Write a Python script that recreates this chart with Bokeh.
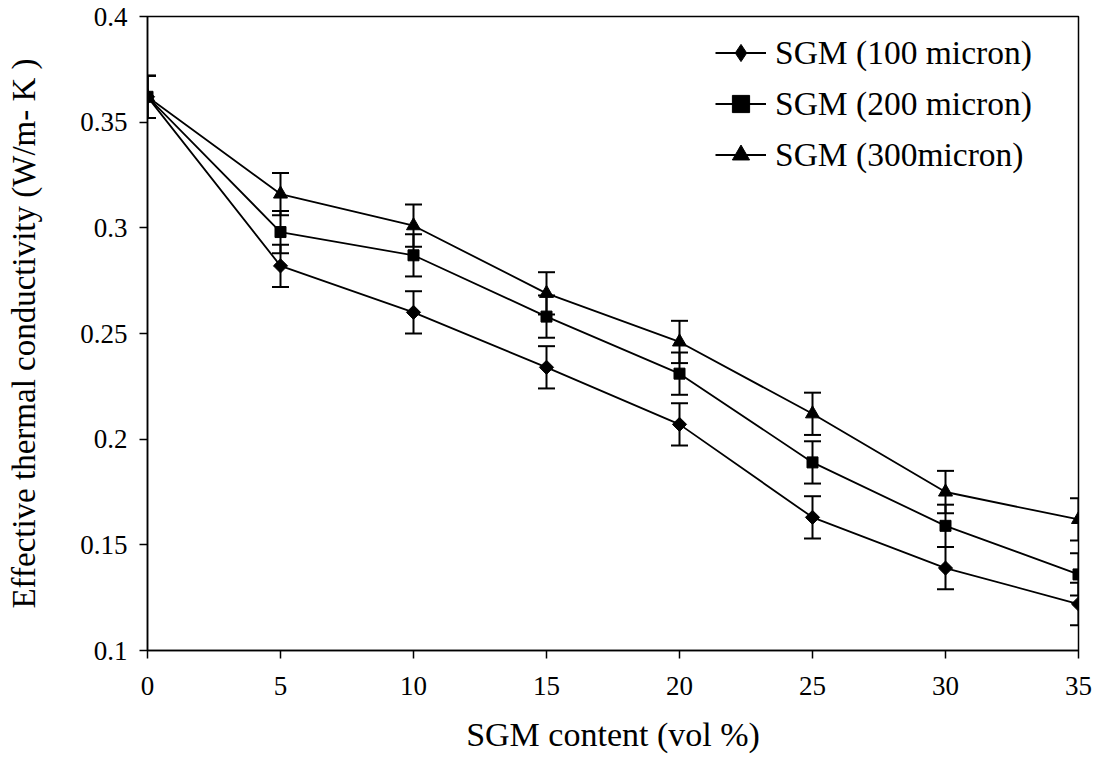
import math
from bokeh.plotting import figure
from bokeh.models import (ColumnDataSource, Whisker, TeeHead, Legend, LegendItem,
                          FixedTicker, CustomJSTickFormatter, Range1d)
from bokeh.embed import file_html
from bokeh.resources import INLINE

content = [0, 5, 10, 15, 20, 25, 30, 35]
k_100 = [0.362, 0.282, 0.260, 0.234, 0.207, 0.163, 0.139, 0.122]
k_200 = [0.362, 0.298, 0.287, 0.258, 0.231, 0.189, 0.159, 0.136]
k_300 = [0.362, 0.316, 0.301, 0.269, 0.246, 0.212, 0.175, 0.162]
err_100 = [0.01] * 8
err_200 = [0.01] * 8
err_300 = [0.01] * 8
series_names = ["SGM (100 micron)", "SGM (200 micron)", "SGM (300micron)"]
x_ticks = [0, 5, 10, 15, 20, 25, 30, 35]
y_ticks = [0.1, 0.15, 0.2, 0.25, 0.3, 0.35, 0.4]

FONT = "Liberation Serif"

p = figure(width=1092, height=763, output_backend="svg", toolbar_location=None,
           x_range=Range1d(0, 35), y_range=Range1d(0.1, 0.4),
           min_border_left=147, min_border_right=14, min_border_top=16,
           min_border_bottom=113)
p.background_fill_color = "white"
p.border_fill_color = "white"
p.outline_line_color = "black"
p.outline_line_width = 1.5
p.xgrid.visible = False
p.ygrid.visible = False

for ax in (p.xaxis[0], p.yaxis[0]):
    ax.axis_line_color = "black"
    ax.axis_line_width = 1.5
    ax.major_tick_line_color = "black"
    ax.major_tick_line_width = 1.5
    ax.major_tick_in = 0
    ax.major_tick_out = 8
    ax.minor_tick_line_color = None
    ax.major_label_text_font = FONT
    ax.major_label_text_font_size = "27px"
    ax.major_label_text_color = "black"
    ax.axis_label_text_font = FONT
    ax.axis_label_text_font_style = "normal"
    ax.axis_label_text_color = "black"

p.xaxis[0].axis_label_text_font_size = "34px"
p.yaxis[0].axis_label_text_font_size = "33px"
p.xaxis[0].ticker = FixedTicker(ticks=x_ticks)
p.yaxis[0].ticker = FixedTicker(ticks=y_ticks)
p.yaxis[0].formatter = CustomJSTickFormatter(code="return tick.toFixed(2).replace(/0$/, '');")
p.xaxis[0].axis_label = "SGM content (vol %)"
p.yaxis[0].axis_label = "Effective thermal conductivity (W/m- K )"
p.xaxis[0].major_label_standoff = 18
p.yaxis[0].major_label_standoff = 12
p.xaxis[0].axis_label_standoff = 18
p.yaxis[0].axis_label_standoff = 35

# (plot marker, plot angle, plot size, legend marker, legend size)
markers = [("square", math.pi / 4, 10, "diamond", 12),
           ("square", 0, 11, "square", 9),
           ("triangle", 0, 14, "triangle", 10)]
datasets = [(k_100, err_100), (k_200, err_200), (k_300, err_300)]

items = []
for (vals, errs), (mk, ang, sz, lmk, lsz), name in zip(datasets, markers, series_names):
    upper = [v + e for v, e in zip(vals, errs)]
    lower = [v - e for v, e in zip(vals, errs)]
    src = ColumnDataSource(dict(x=content, y=vals, upper=upper, lower=lower))
    p.line("x", "y", source=src, line_color="black", line_width=1.8)
    w = Whisker(base="x", upper="upper", lower="lower", source=src,
                line_color="black", line_width=2,
                upper_head=TeeHead(size=17, line_color="black", line_width=2),
                lower_head=TeeHead(size=17, line_color="black", line_width=2))
    p.add_layout(w)
    p.scatter("x", "y", source=src, marker=mk, angle=ang, size=sz,
              fill_color="black", line_color="black")
    # legend sample glyphs: a single undefined (NaN) point, never drawn in the plot
    esrc = ColumnDataSource(dict(x=[float("nan")], y=[float("nan")]))
    lr = p.line("x", "y", source=esrc, line_color="black", line_width=1.8)
    sr = p.scatter("x", "y", source=esrc, marker=lmk, size=lsz,
                   fill_color="black", line_color="black")
    items.append(LegendItem(label=name, renderers=[lr, sr]))

legend = Legend(items=items, location=(568, 474), orientation="vertical",
                label_text_font=FONT, label_text_font_size="33.5px",
                label_text_color="black", glyph_width=51, glyph_height=43,
                label_height=43, spacing=8, padding=0, margin=0,
                label_standoff=9, border_line_color=None,
                background_fill_alpha=0)
p.add_layout(legend)

open("out.html", "w").write(file_html(p, INLINE))
